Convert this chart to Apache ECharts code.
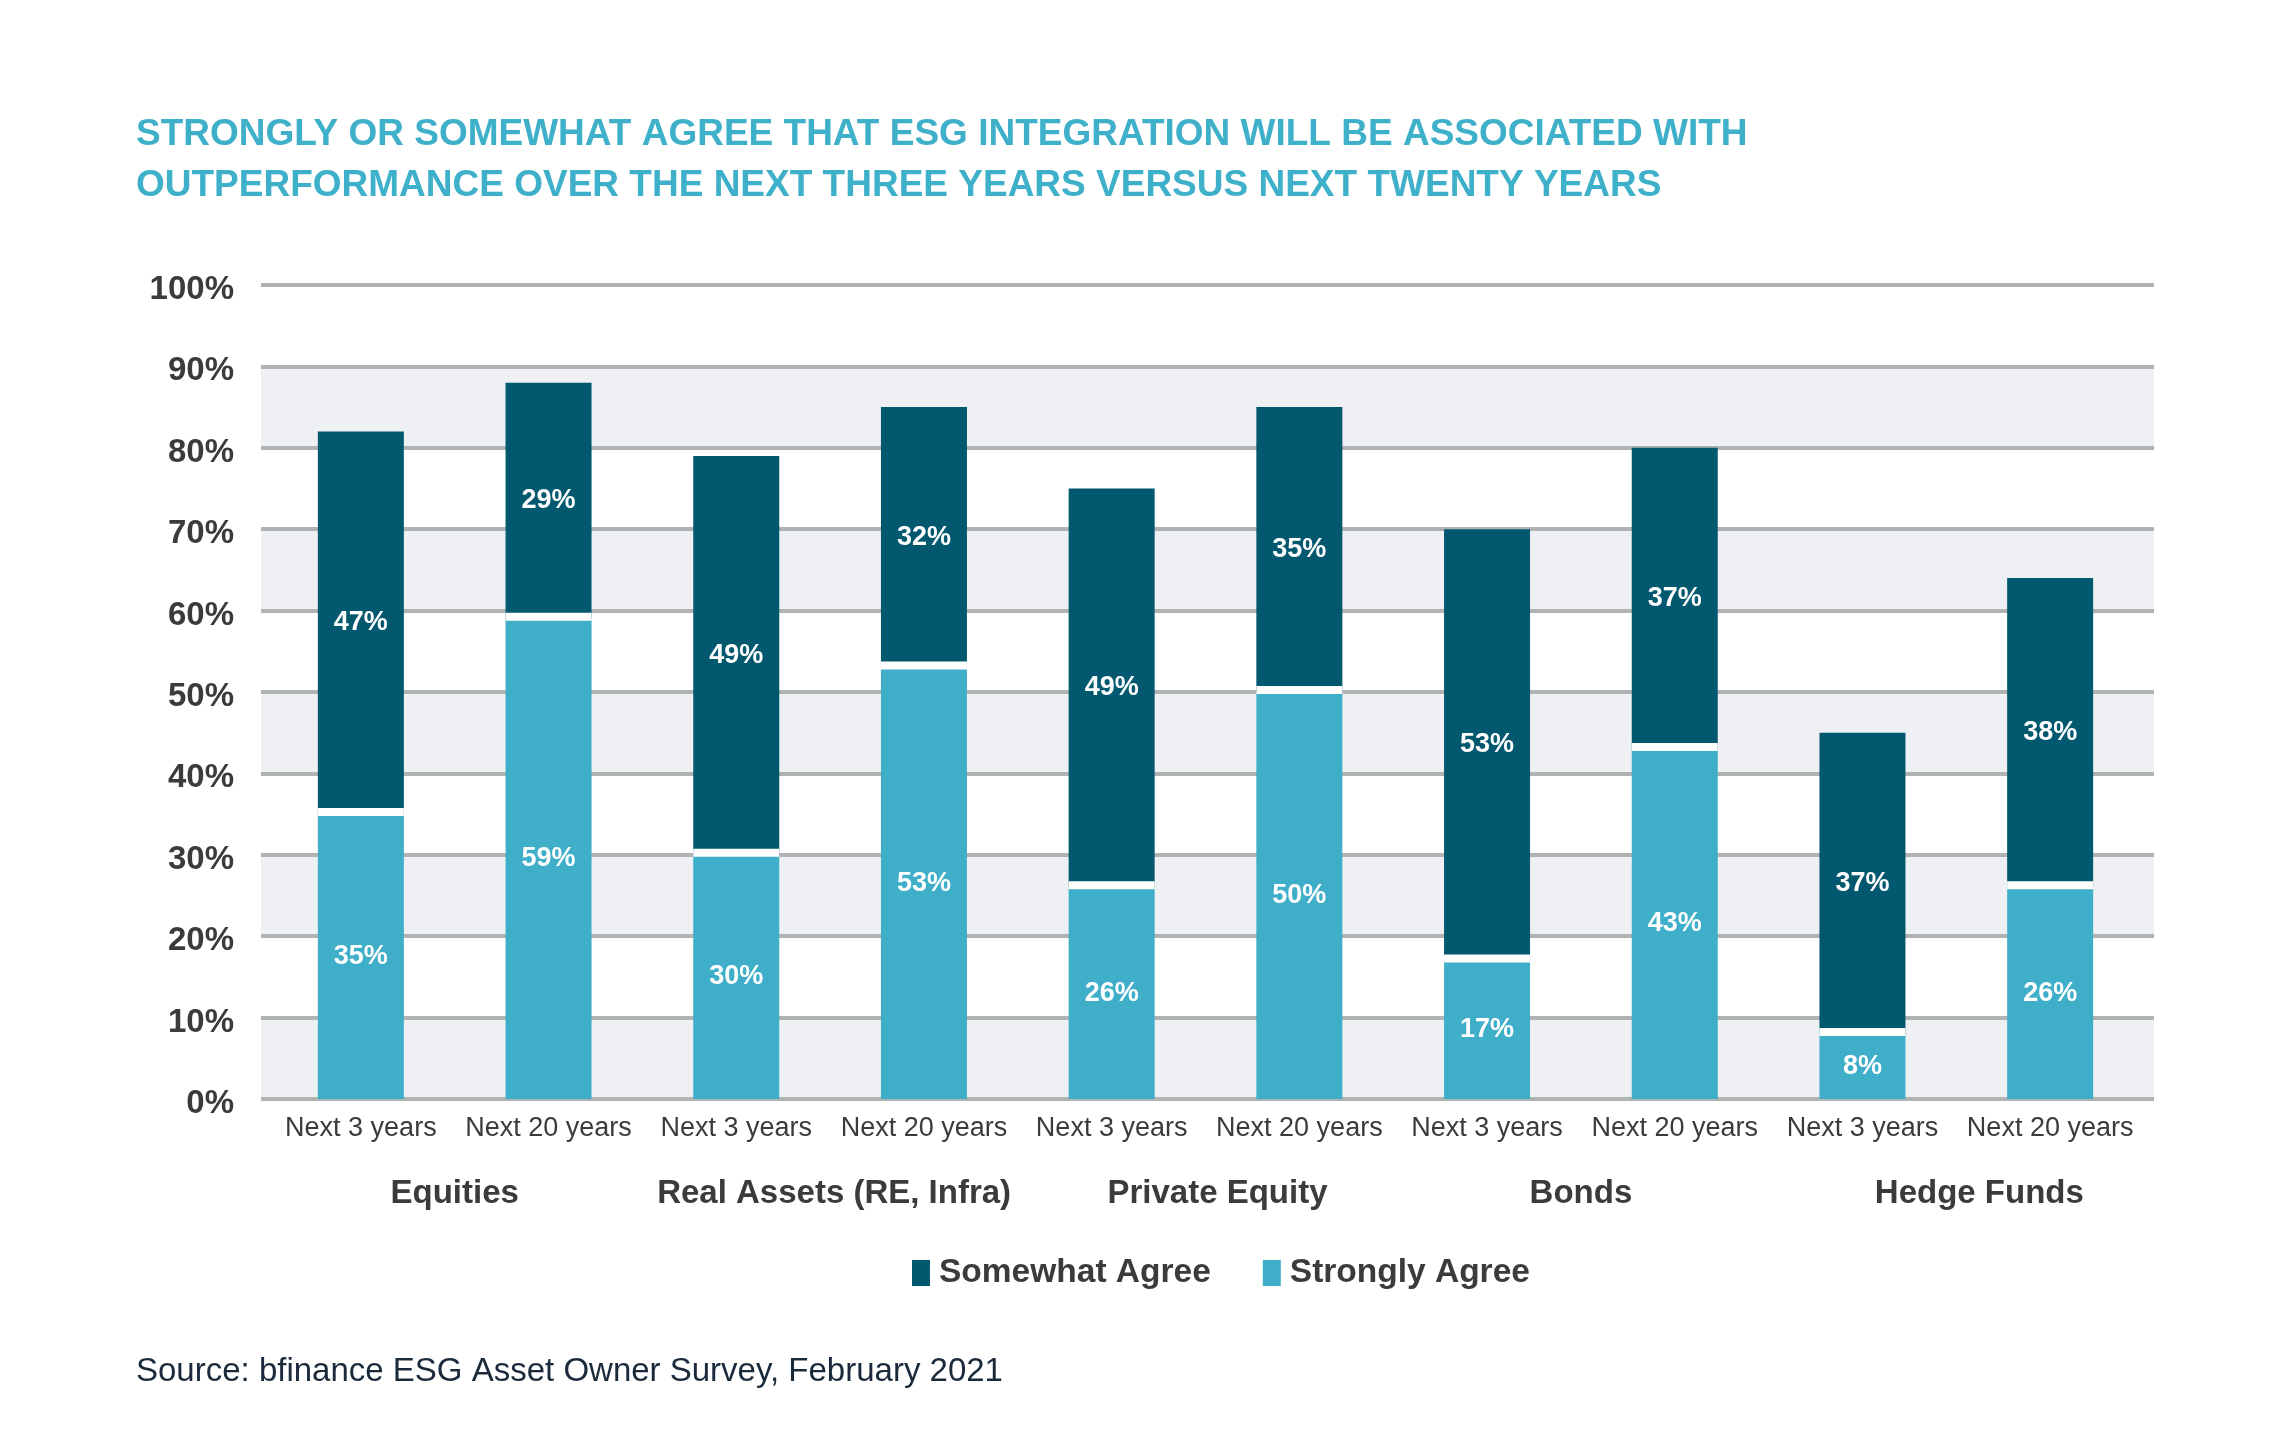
<!DOCTYPE html>
<html>
<head>
<meta charset="utf-8">
<style>html,body{margin:0;padding:0;background:#fff;}#chart{width:2291px;height:1433px;}</style>
<script src="https://cdn.jsdelivr.net/npm/echarts@6/dist/echarts.min.js"></script>
</head>
<body>
<div id="chart"></div>
<script>
const periods = ['Next 3 years','Next 20 years','Next 3 years','Next 20 years','Next 3 years','Next 20 years','Next 3 years','Next 20 years','Next 3 years','Next 20 years'];
const groups = ['Equities','Real Assets (RE, Infra)','Private Equity','Bonds','Hedge Funds'];
const stronglyAgree = [35, 59, 30, 53, 26, 50, 17, 43, 8, 26];
const somewhatAgree = [47, 29, 49, 32, 49, 35, 53, 37, 37, 38];
const yTicks = [0,10,20,30,40,50,60,70,80,90,100];

const FONT = "'Liberation Sans', Arial, Helvetica, sans-serif";
const BW = 86;
const DARK = '#02586f';
const LIGHT = '#3faec9';
const TEXT = '#3b3b3b';
// small horizontal nudges for the group captions (left padding, px)
const groupPad = [0, 8, 24, 0, 46];

const chart = echarts.init(document.getElementById('chart'));
chart.setOption({
  animation: false,
  backgroundColor: '#fff',
  title: [
    {
      text: 'STRONGLY OR SOMEWHAT AGREE THAT ESG INTEGRATION WILL BE ASSOCIATED WITH\nOUTPERFORMANCE OVER THE NEXT THREE YEARS VERSUS NEXT TWENTY YEARS',
      left: 136, top: 109, padding: 0,
      textStyle: {color: '#3eb0ca', fontFamily: FONT, fontWeight: 'bold', fontSize: 37, lineHeight: 51}
    },
    {
      text: 'Source: bfinance ESG Asset Owner Survey, February 2021',
      left: 136, top: 1355, padding: 0,
      textStyle: {color: '#1b2a3b', fontFamily: FONT, fontWeight: 'normal', fontSize: 33}
    }
  ],
  legend: {
    left: 912, top: 1256, padding: 0,
    itemWidth: 18, itemHeight: 26, itemGap: 52,
    icon: 'rect',
    data: ['Somewhat Agree', 'Strongly Agree'],
    textStyle: {color: TEXT, fontFamily: FONT, fontWeight: 'bold', fontSize: 33.5, padding: [0,0,0,4]}
  },
  grid: [
    {left: 261, right: 137, top: 285, bottom: 334, containLabel: false},
    {left: 267, right: 147, top: 285, bottom: 334, containLabel: false}
  ],
  xAxis: [
    {gridIndex: 0, type: 'value', min: 0, max: 1, show: false},
    {
      gridIndex: 1, type: 'category', data: periods,
      axisLine: {show: false}, axisTick: {show: false},
      axisLabel: {color: TEXT, fontFamily: FONT, fontSize: 27, margin: 16, interval: 0}
    },
    {
      gridIndex: 1, type: 'category', data: groups, position: 'bottom',
      axisLine: {show: false}, axisTick: {show: false},
      axisLabel: {
        color: TEXT, fontFamily: FONT, fontWeight: 'bold', fontSize: 33, margin: 78, interval: 0,
        formatter: (v, i) => '{g' + i + '|' + v + '}',
        rich: Object.fromEntries(groupPad.map((p, i) => ['g' + i, {padding: [0, 0, 0, p], color: TEXT, fontFamily: FONT, fontWeight: 'bold', fontSize: 33}]))
      }
    }
  ],
  yAxis: [
    {
      gridIndex: 0, type: 'value', min: 0, max: 100, interval: 10,
      axisLine: {show: false}, axisTick: {show: false},
      axisLabel: {
        color: TEXT, fontFamily: FONT, fontWeight: 'bold', fontSize: 33, margin: 27,
        formatter: v => yTicks.includes(v) ? '{a|' + v + '%}' : '',
        rich: {a: {padding: [10, 0, 0, 0], color: TEXT, fontFamily: FONT, fontWeight: 'bold', fontSize: 33}}
      },
      splitLine: {show: true, lineStyle: {color: '#afb3b2', width: 4}},
      splitArea: {show: true, areaStyle: {color: ['#eff0f4', '#ffffff']}}
    },
    {
      gridIndex: 1, type: 'value', min: 0, max: 100, interval: 10,
      axisLine: {show: false}, axisTick: {show: false}, axisLabel: {show: false},
      splitLine: {show: false}, splitArea: {show: false}
    }
  ],
  series: [
    {
      name: 'Strongly Agree', type: 'bar', stack: 'total', barWidth: BW,
      xAxisIndex: 1, yAxisIndex: 1,
      data: stronglyAgree, itemStyle: {color: LIGHT}, z: 2,
      label: {show: true, position: 'inside', color: '#fff', fontFamily: FONT, fontWeight: 'bold', fontSize: 27, formatter: '{c}%'}
    },
    {
      name: 'Somewhat Agree', type: 'bar', stack: 'total', barWidth: BW,
      xAxisIndex: 1, yAxisIndex: 1,
      data: somewhatAgree, itemStyle: {color: DARK}, z: 2,
      label: {show: true, position: 'inside', color: '#fff', fontFamily: FONT, fontWeight: 'bold', fontSize: 27, formatter: '{c}%'}
    },
    {
      name: 'gap', type: 'custom', z: 5, silent: true,
      xAxisIndex: 1, yAxisIndex: 1,
      data: stronglyAgree.map((v, i) => [i, v]),
      renderItem: (params, api) => {
        const p = api.coord([api.value(0), api.value(1)]);
        return {type: 'rect', shape: {x: p[0] - BW / 2, y: p[1] - 6, width: BW, height: 8}, style: {fill: '#ffffff'}};
      }
    }
  ]
});
</script>
</body>
</html>
